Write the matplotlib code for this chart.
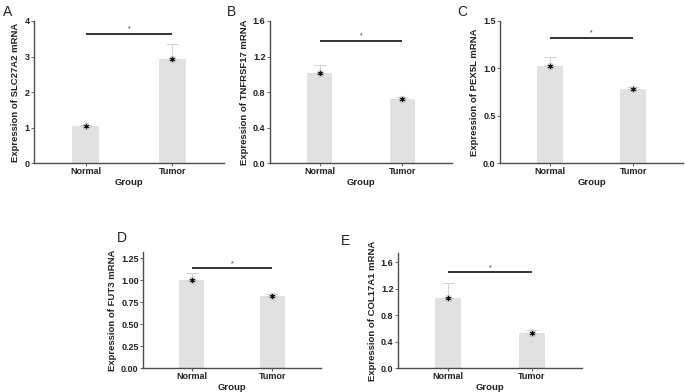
import matplotlib
matplotlib.use("Agg")
import matplotlib.pyplot as plt
import numpy as np

plt.rcParams['font.family'] = ['Liberation Sans', 'DejaVu Sans']

groups = ["Normal", "Tumor"]
panel_labels = ["A", "B", "C", "D", "E"]
genes = ["SLC27A2", "TNFRSF17", "PEX5L", "FUT3", "COL17A1"]
means_a = [1.05, 2.93]
upper_a = [1.08, 3.36]
means_b = [1.015, 0.72]
upper_b = [1.10, 0.745]
means_c = [1.025, 0.78]
upper_c = [1.12, 0.80]
means_d = [1.005, 0.82]
upper_d = [1.085, 0.845]
means_e = [1.06, 0.53]
upper_e = [1.28, 0.575]
sig_y = [3.64, 1.375, 1.32, 1.14, 1.45]
ylims = [4.0, 1.6, 1.5, 1.32, 1.74]
yticks = [[0, 1, 2, 3, 4],
          [0.0, 0.4, 0.8, 1.2, 1.6],
          [0.0, 0.5, 1.0, 1.5],
          [0.00, 0.25, 0.50, 0.75, 1.00, 1.25],
          [0.0, 0.4, 0.8, 1.2, 1.6]]
ytick_fmt = ["{:.0f}", "{:.1f}", "{:.1f}", "{:.2f}", "{:.1f}"]

means = [means_a, means_b, means_c, means_d, means_e]
uppers = [upper_a, upper_b, upper_c, upper_d, upper_e]

W, H = 685, 392
# pixel rects: left, top, right, bottom
rects = [(34, 21, 224, 163), (270, 21, 452, 163), (500, 21, 683, 163),
         (143, 252, 321, 368), (398, 253, 582, 368)]
label_pos = [(3, 5), (227, 5), (457, 5), (117, 231), (341, 234)]

fig = plt.figure(figsize=(W / 100, H / 100), dpi=100)
fig.patch.set_facecolor("white")

axis_col = "#4d4d4d"
for i in range(5):
    l, t, r, b = rects[i]
    ax = fig.add_axes([l / W, 1 - b / H, (r - l) / W, (b - t) / H])
    x = np.arange(1, 3)
    m = np.array(means[i])
    u = np.array(uppers[i])
    ax.bar(x, m, width=0.31, color="#e1e1e1", zorder=1)
    ax.errorbar(x, m, yerr=[np.zeros(2), u - m], fmt="none", ecolor="#d2d2d2",
                elinewidth=0.7, capsize=4, capthick=0.7, zorder=2)
    ax.scatter(x, m, s=28, color="#9a9a9a", alpha=0.5, zorder=3, linewidths=0)
    ax.scatter(x, m, s=10, marker=(6, 2, 0), color="#111111", linewidths=0.5, zorder=4)
    ax.plot([1, 2], [sig_y[i], sig_y[i]], color="#333333", lw=1.4, solid_capstyle="butt", zorder=5)
    ax.text(1.5, sig_y[i] + 0.035 * ylims[i], "*", ha="center", va="center",
            fontsize=5, color="#333333")
    ax.set_xlim(0.4, 2.6)
    ax.set_ylim(0, ylims[i])
    ax.set_xticks(x)
    ax.set_xticklabels(groups, fontsize=6.5, fontweight="bold", color="#222222")
    ax.set_yticks(yticks[i])
    ax.set_yticklabels([ytick_fmt[i].format(v) for v in yticks[i]], fontsize=6.5,
                       fontweight="bold", color="#222222")
    ax.tick_params(axis="both", length=2, width=0.6, color=axis_col, pad=1.2)
    for s in ["top", "right"]:
        ax.spines[s].set_visible(False)
    for s in ["left", "bottom"]:
        ax.spines[s].set_color(axis_col)
        ax.spines[s].set_linewidth(1.0)
    ax.set_xlabel("Group", fontsize=6.8, fontweight="bold", color="#222222", labelpad=1)
    ax.set_ylabel("Expression of " + genes[i] + " mRNA", fontsize=6.8,
                  fontweight="bold", color="#222222", labelpad=3)
    fig.text(label_pos[i][0] / W, 1 - label_pos[i][1] / H, panel_labels[i],
             fontsize=10, ha="left", va="top", color="#222222")

fig.savefig("out.png", dpi=100, facecolor="white")
